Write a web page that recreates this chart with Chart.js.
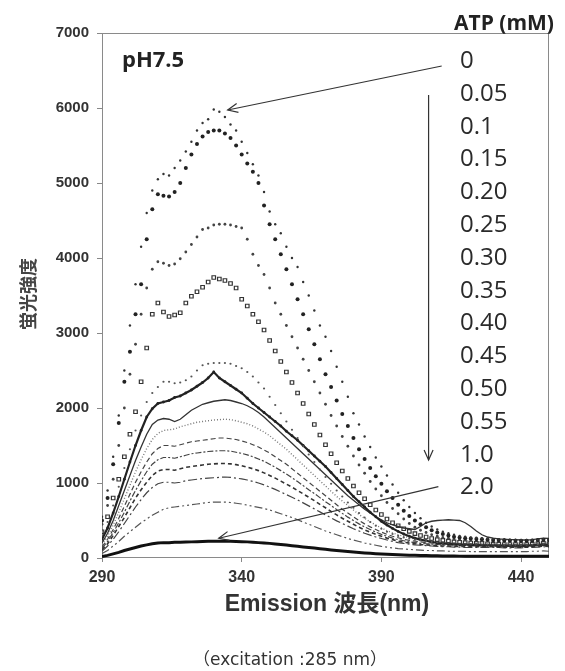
<!DOCTYPE html>
<html>
<head>
<meta charset="utf-8">
<script src="https://cdn.jsdelivr.net/npm/chart.js@4.4.1/dist/chart.umd.min.js"></script>
<style>
html,body{margin:0;padding:0;background:#fff;}
canvas{display:block;}
</style>
</head>
<body>
<canvas id="c" width="565" height="671"></canvas>
<script>
// ---- data ----
const WAVELENGTHS = [290,292,294,296,298,300,302,304,306,308,310,312,314,316,318,320,322,324,326,328,330,332,334,336,338,340,342,344,346,348,350,352,354,356,358,360,362,364,366,368,370,372,374,376,378,380,382,384,386,388,390,392,394,396,398,400,402,404,406,408,410,412,414,416,418,420,422,424,426,428,430,432,434,436,438,440,442,444,446,448,450];
const ATP_LABELS = ['0','0.05','0.1','0.15','0.20','0.25','0.30','0.35','0.40','0.45','0.50','0.55','1.0','2.0'];
const X_TICKS = [290,340,390,440];
const Y_TICKS = [0,1000,2000,3000,4000,5000,6000,7000];

const S_0 = [550,900,1350,1900,2500,3100,3650,4150,4600,4900,
5050,5120,5100,5200,5300,5420,5550,5700,5800,5850,
5980,5950,5880,5780,5700,5550,5400,5250,5100,4880,
4620,4450,4330,4150,4000,3880,3680,3500,3300,3100,
2950,2760,2550,2350,2150,1930,1780,1620,1480,1340,
1220,1100,980,870,770,680,600,530,470,420,
380,350,330,310,295,285,275,270,265,260,
255,250,250,245,245,240,240,240,245,250,
250];
const S_005 = [500,800,1250,1800,2350,2750,3250,3650,4250,4650,
4850,4830,4820,4880,5000,5200,5380,5520,5620,5680,
5700,5700,5660,5600,5500,5380,5260,5150,5000,4700,
4450,4250,4050,3850,3650,3450,3250,3050,2850,2650,
2450,2280,2100,1920,1760,1600,1450,1320,1200,1090,
990,890,800,710,630,560,500,450,410,370,
340,320,300,285,275,265,260,255,250,245,
240,240,235,235,230,230,230,235,240,245,
240];
const S_01 = [450,700,1050,1500,2000,2450,2850,3250,3600,3850,
3950,3930,3900,3920,3990,4080,4180,4280,4380,4400,
4440,4450,4450,4440,4420,4400,4250,4050,3900,3780,
3600,3400,3250,3100,2950,2800,2650,2500,2350,2200,
2050,1900,1760,1620,1490,1360,1240,1130,1020,920,
830,740,660,590,520,460,410,370,340,310,
290,275,265,255,250,245,240,235,230,230,
225,225,220,220,220,215,215,220,225,230,
225];
const S_015 = [350,550,800,1050,1350,1650,1950,2350,2800,3250,
3400,3280,3220,3240,3270,3400,3490,3550,3610,3680,
3740,3720,3700,3660,3600,3450,3360,3250,3150,3040,
2900,2760,2620,2480,2340,2200,2060,1920,1780,1640,
1510,1390,1270,1160,1060,960,870,790,710,640,
580,520,470,430,390,355,325,300,280,260,
245,235,225,215,210,205,200,195,195,190,
185,185,180,180,180,180,180,185,190,195,
190];
const S_020 = [300,480,700,950,1200,1450,1700,1900,2080,2200,
2280,2350,2350,2330,2340,2370,2420,2500,2570,2590,
2600,2600,2600,2590,2560,2530,2480,2420,2340,2260,
2150,2040,1930,1820,1710,1600,1490,1380,1280,1180,
1080,990,900,820,740,670,600,540,480,430,
390,350,320,295,275,260,245,235,225,215,
210,205,200,195,190,190,185,185,180,180,
180,175,175,175,175,170,170,175,180,185,
180];
const S_025 = [250,400,600,820,1050,1280,1500,1700,1880,1990,
2060,2080,2100,2140,2160,2200,2240,2290,2340,2400,
2480,2400,2350,2300,2250,2200,2130,2060,2000,1940,
1880,1820,1760,1690,1630,1570,1500,1430,1360,1290,
1220,1140,1060,980,900,820,750,680,610,550,
490,440,395,355,320,290,265,245,230,215,
200,195,190,185,180,180,175,175,170,170,
170,165,165,165,165,165,165,170,175,180,
175];
const S_030 = [200,330,500,700,900,1100,1300,1480,1650,1780,
1840,1860,1850,1820,1850,1910,1970,2010,2050,2070,
2090,2100,2110,2100,2080,2060,2030,1990,1940,1880,
1810,1740,1670,1600,1530,1460,1390,1320,1250,1180,
1110,1040,970,900,830,770,710,650,600,550,
510,470,440,420,400,390,380,420,470,490,
500,505,510,505,500,470,420,360,310,280,
265,255,250,245,245,240,240,245,255,265,
260];
const S_035 = [180,290,440,610,790,970,1150,1310,1460,1580,
1660,1700,1710,1720,1750,1770,1790,1810,1820,1830,
1840,1845,1850,1845,1830,1810,1790,1760,1720,1680,
1630,1570,1510,1450,1380,1310,1240,1170,1100,1030,
960,890,820,760,700,640,580,530,480,440,
400,365,335,310,290,270,255,240,230,220,
210,205,200,195,190,185,185,180,180,180,
175,175,175,170,170,170,170,175,180,185,
180];
const S_040 = [150,250,380,530,690,850,1010,1150,1280,1390,
1460,1500,1500,1490,1510,1530,1550,1560,1570,1580,
1590,1600,1600,1590,1580,1560,1540,1510,1480,1440,
1400,1350,1300,1250,1190,1130,1070,1010,950,890,
830,770,710,650,600,550,500,455,415,380,
345,315,290,270,250,235,225,215,205,200,
195,190,185,180,180,175,175,170,170,170,
170,165,165,165,165,165,165,170,170,175,
170];
const S_045 = [130,220,340,470,610,760,900,1030,1150,1250,
1310,1340,1340,1330,1350,1370,1390,1400,1410,1420,
1425,1430,1430,1425,1410,1395,1375,1350,1320,1290,
1250,1210,1165,1120,1070,1020,965,910,860,805,
750,700,645,595,545,500,455,415,380,345,
315,290,265,245,230,215,205,195,190,185,
180,175,170,170,165,165,160,160,160,160,
160,155,155,155,155,155,155,160,165,170,
165];
const S_050 = [110,190,300,420,540,670,800,910,1010,1100,
1160,1180,1180,1170,1190,1210,1220,1230,1240,1250,
1255,1260,1260,1255,1245,1230,1210,1190,1165,1135,
1100,1065,1025,985,945,900,855,810,765,715,
670,620,575,530,490,450,410,375,345,315,
290,265,245,225,210,200,190,180,175,170,
165,160,160,155,155,150,150,150,150,150,
150,145,145,145,145,145,145,150,155,160,
155];
const S_055 = [90,160,250,350,460,570,680,780,870,940,
990,1010,1010,1000,1010,1030,1040,1050,1060,1065,
1070,1075,1080,1075,1065,1055,1040,1020,1000,975,
945,915,880,845,810,775,735,695,655,615,
575,535,495,460,425,390,360,330,305,280,
260,240,220,205,195,185,175,170,165,160,
155,150,150,145,145,140,140,140,140,140,
140,140,135,135,135,135,140,140,145,150,
145];
const S_10 = [60,100,160,220,290,350,410,470,520,570,
610,650,670,680,690,700,710,720,730,740,
745,745,745,740,730,720,705,690,675,660,
640,615,590,565,540,510,480,450,420,390,
360,335,310,285,260,240,220,200,185,170,
155,145,135,125,120,115,110,105,100,100,
95,95,90,90,90,90,85,85,85,85,
85,85,85,85,85,85,85,90,90,95,
90];
const S_20 = [20,35,55,75,100,120,140,160,175,190,
200,205,205,210,210,212,215,218,220,222,
222,224,225,222,220,218,215,210,205,200,
195,188,180,172,164,156,148,140,132,124,
116,108,100,93,86,80,74,68,63,58,
54,50,46,43,40,38,36,34,32,30,
29,28,27,26,25,25,24,24,23,23,
23,22,22,22,22,22,22,22,22,22,
22];

const SERIES = [S_0,S_005,S_01,S_015,S_020,S_025,S_030,S_035,S_040,S_045,S_050,S_055,S_10,S_20];

// ---- styles (separate from data) ----
const STYLES = [
  {showLine:false, pointRadius:1.2, color:'#333'},
  {showLine:false, pointRadius:2.0, color:'#222'},
  {showLine:false, pointRadius:1.4, color:'#444'},
  {showLine:false, pointRadius:2.5, color:'#333', pointStyle:'rect', hollow:true},
  {showLine:false, pointRadius:1.1, color:'#555'},
  {showLine:true, borderWidth:2.2, pointRadius:1.4, color:'#222'},
  {showLine:true, borderWidth:1.3, color:'#333'},
  {showLine:true, borderWidth:1.4, color:'#777', dash:[1,2]},
  {showLine:true, borderWidth:1.2, color:'#444', dash:[5,3]},
  {showLine:true, borderWidth:1.2, color:'#444', dash:[6,2,2,2]},
  {showLine:true, borderWidth:1.6, color:'#333', dash:[4,3]},
  {showLine:true, borderWidth:1.2, color:'#444', dash:[9,3,2,3]},
  {showLine:true, borderWidth:1.2, color:'#555', dash:[8,3,2,3,2,3]},
  {showLine:true, borderWidth:3, color:'#111'}
];

const datasets = SERIES.map((arr, i) => {
  const s = STYLES[i];
  return {
    label: ATP_LABELS[i],
    data: WAVELENGTHS.map((x, j) => ({x: x, y: arr[j]})),
    showLine: s.showLine,
    borderColor: s.color,
    backgroundColor: s.hollow ? 'rgba(255,255,255,0)' : s.color,
    borderWidth: s.borderWidth || 1,
    borderDash: s.dash || [],
    pointRadius: s.pointRadius || 0,
    pointStyle: s.pointStyle || 'circle',
    pointBorderWidth: s.hollow ? 1.2 : 0,
    pointBorderColor: s.color,
    pointBackgroundColor: s.hollow ? 'rgba(255,255,255,0)' : s.color,
    tension: 0,
    fill: false
  };
});

// annotation arrows, in data units
const ANNOT_ARROWS = [
  {from:[411.6, 6560], to:[335, 5973]},
  {from:[406.9, 6173], to:[406.9, 1307]},
  {from:[410.4, 951], to:[331.8, 263]}
];

const decor = {
  id: 'decor',
  beforeDatasetsDraw(chart) {
    const {ctx, chartArea: a} = chart;
    ctx.save();
    ctx.strokeStyle = '#8a8a8a';
    ctx.lineWidth = 1;
    ctx.strokeRect(a.left + 0.5, a.top + 0.5, a.right - a.left - 1, a.bottom - a.top - 1);
    ctx.restore();
  },
  afterDraw(chart) {
    const {ctx, scales} = chart;
    const xs = scales.x, ys = scales.y;
    ctx.save();
    // arrows
    ctx.strokeStyle = '#333';
    ctx.lineWidth = 1.2;
    ANNOT_ARROWS.forEach(ar => {
      const x1 = xs.getPixelForValue(ar.from[0]), y1 = ys.getPixelForValue(ar.from[1]);
      const x2 = xs.getPixelForValue(ar.to[0]), y2 = ys.getPixelForValue(ar.to[1]);
      ctx.beginPath(); ctx.moveTo(x1, y1); ctx.lineTo(x2, y2); ctx.stroke();
      const ang = Math.atan2(y2 - y1, x2 - x1);
      const L = 11, w = 0.42;
      ctx.beginPath();
      ctx.moveTo(x2 - L * Math.cos(ang - w), y2 - L * Math.sin(ang - w));
      ctx.lineTo(x2, y2);
      ctx.lineTo(x2 - L * Math.cos(ang + w), y2 - L * Math.sin(ang + w));
      ctx.stroke();
    });
    // legend heading & labels
    ctx.fillStyle = '#222';
    ctx.textAlign = 'left';
    ctx.textBaseline = 'alphabetic';
    ctx.font = 'bold 21px "Open Sans", "Liberation Sans", sans-serif';
    ctx.fillText('ATP (mM)', 454, 30);
    ctx.font = '24px "Open Sans", "Liberation Sans", sans-serif';
    ctx.fillStyle = '#2a2a2a';
    ATP_LABELS.forEach((t, i) => {
      ctx.fillText(t, 460, 59.5 + 32.8 * i + 8.5);
    });
    // pH label
    ctx.fillStyle = '#222';
    ctx.font = 'bold 22px "Open Sans", "Liberation Sans", sans-serif';
    ctx.fillText('pH7.5', 122, 67);
    // x title
    ctx.textAlign = 'center';
    ctx.textBaseline = 'middle';
    ctx.font = 'bold 23px "Liberation Sans", "Noto Sans CJK JP", sans-serif';
    ctx.fillStyle = '#333';
    ctx.fillText('Emission 波長(nm)', 327, 605);
    // footer
    ctx.font = '17px "DejaVu Sans", "Noto Sans CJK JP", sans-serif';
    ctx.fillStyle = '#333';
    ctx.fillText('（excitation :285 nm）', 290, 661);
    // y title
    ctx.save();
    ctx.translate(28, 294);
    ctx.rotate(-Math.PI / 2);
    ctx.font = 'bold 18px "Noto Sans CJK JP", sans-serif';
    ctx.fillStyle = '#444';
    ctx.fillText('蛍光強度', 0, 0);
    ctx.restore();
    ctx.restore();
  }
};

new Chart(document.getElementById('c'), {
  type: 'line',
  data: {datasets},
  options: {
    responsive: false,
    animation: false,
    events: [],
    layout: {padding: {left: 0, top: 33, right: 16, bottom: 0}},
    plugins: {legend: {display: false}, tooltip: {enabled: false}},
    scales: {
      x: {
        type: 'linear',
        min: 290, max: 450,
        afterBuildTicks: (s) => { s.ticks = X_TICKS.map(v => ({value: v})); },
        afterFit: (s) => { s.height = 113; },
        grid: {display: true, drawOnChartArea: false, drawTicks: true, tickLength: 4, color: '#888'},
        border: {display: false},
        ticks: {color: '#333', font: {family: '"Liberation Sans", Arial, sans-serif', size: 16, weight: 'bold'}, padding: 6, maxRotation: 0,
                callback: (v) => String(v)}
      },
      y: {
        type: 'linear',
        min: 0, max: 7000,
        afterBuildTicks: (s) => { s.ticks = Y_TICKS.map(v => ({value: v})); },
        afterFit: (s) => { s.width = 102; },
        grid: {display: true, drawOnChartArea: false, drawTicks: true, tickLength: 5, color: '#888'},
        border: {display: false},
        ticks: {color: '#333', font: {family: '"Liberation Sans", Arial, sans-serif', size: 15, weight: 'bold'}, padding: 8,
                callback: (v) => String(v)}
      }
    }
  },
  plugins: [decor]
});
</script>
</body>
</html>
